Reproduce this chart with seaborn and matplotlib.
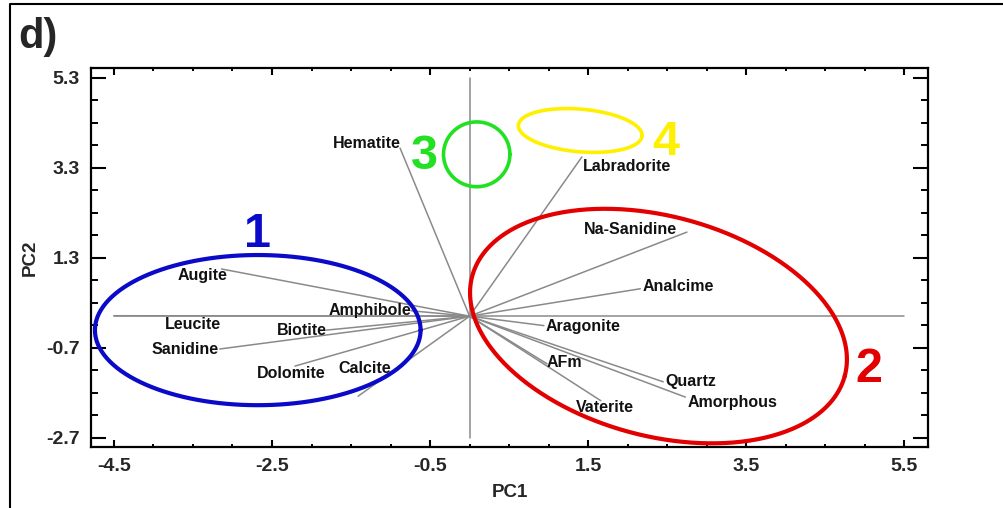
import numpy as np
import pandas as pd
import matplotlib
matplotlib.use("Agg")
import matplotlib.pyplot as plt
from matplotlib.lines import Line2D
import seaborn as sns

# ---------------- data ----------------
minerals = ["Augite", "Leucite", "Sanidine", "Biotite", "Amphibole", "Dolomite",
            "Calcite", "Hematite", "Labradorite", "Na-Sanidine", "Analcime",
            "Aragonite", "AFm", "Vaterite", "Quartz", "Amorphous"]
pc1 = [-3.14, -4.50, -3.16, -1.81, -0.74, -2.21, -1.41, -0.88, 1.42, 2.75,
       2.16, 0.94, 0.98, 1.66, 2.45, 2.73]
pc2 = [1.05, 0.01, -0.73, -0.31, 0.12, -1.11, -1.78, 3.74, 3.54, 1.87,
       0.61, -0.21, -1.06, -1.88, -1.46, -1.80]

x_ticks = [-4.5, -2.5, -0.5, 1.5, 3.5, 5.5]
x_tick_labels = ["-4.5", "-2.5", "-0.5", "1.5", "3.5", "5.5"]
y_ticks = [-2.7, -0.7, 1.3, 3.3, 5.3]
y_tick_labels = ["-2.7", "-0.7", "1.3", "3.3", "5.3"]

group_names = ["1", "2", "3", "4"]
group_colors = ["#0A0AC8", "#E30000", "#22E022", "#FFF000"]

# ---------------- layout / style (not data) ----------------
# label placement relative to vector tip: (dx px, dy px, ha, va)
label_place = {
    "Augite": (6, -7, "right", "center"),
    "Leucite": (79, -9, "center", "center"),
    "Sanidine": (-1, -1, "right", "center"),
    "Biotite": (0, 0, "right", "center"),
    "Amphibole": (0, 0, "right", "center"),
    "Dolomite": (-4, -7, "center", "center"),
    "Calcite": (7, 28, "center", "center"),
    "Hematite": (1, 5, "right", "center"),
    "Labradorite": (1, -9, "left", "center"),
    "Na-Sanidine": (-10, 3, "right", "center"),
    "Analcime": (2, 2, "left", "center"),
    "Aragonite": (2, -1, "left", "center"),
    "AFm": (0, 1, "left", "center"),
    "Vaterite": (4, -7, "center", "center"),
    "Quartz": (2, 0, "left", "center"),
    "Amorphous": (2, -5, "left", "center"),
}
# ellipses: center (data), semi-axes (x-units, display isotropic), angle (deg)
ellipse_spec = [
    ((-2.68, -0.31), 2.06, 0.95, 0.0),
    ((2.39, -0.22), 2.44, 1.39, -15.0),
    ((0.09, 3.60), 0.42, 0.41, 0.0),
    ((1.40, 4.13), 0.785, 0.27, -5.0),
]
ellipse_lw = [3.0, 3.0, 2.6, 2.6]
# group number positions (data coords, baseline)
group_text_pos = [(-2.685, 1.54), (5.054, -1.464), (-0.571, 3.27), (2.479, 3.587)]

sns.set_theme(style="white")
plt.rcParams["font.family"] = ["Liberation Sans", "DejaVu Sans"]
plt.rcParams["font.weight"] = "bold"

fig = plt.figure(figsize=(10.04, 5.08), dpi=100)
ax = fig.add_axes([91 / 1004, 61 / 508, 837 / 1004, 379 / 508])
ax.set_xlim(-4.79, 5.80)
ax.set_ylim(-2.91, 5.52)

grey = "#8a8a8a"
# reference axes through origin
ax.plot([x_ticks[0], x_ticks[-1]], [0, 0], color=grey, lw=1.1, zorder=1)
ax.plot([0, 0], [y_ticks[0], y_ticks[-1]], color=grey, lw=1.1, zorder=1)

# vectors
n = len(minerals)
df = pd.DataFrame({
    "mineral": np.repeat(minerals, 2),
    "PC1": np.ravel(np.column_stack([np.zeros(n), pc1])),
    "PC2": np.ravel(np.column_stack([np.zeros(n), pc2])),
})
sns.lineplot(data=df, x="PC1", y="PC2", units="mineral", estimator=None,
             sort=False, color=grey, linewidth=1.1, ax=ax, legend=False, zorder=2)

for name, x, y in zip(minerals, pc1, pc2):
    dx, dy, ha, va = label_place[name]
    kw = {}
    if name == "Calcite":
        kw["bbox"] = dict(facecolor="white", edgecolor="none", pad=1.0)
    ax.annotate(name, (x, y), xytext=(dx, dy), textcoords="offset pixels",
                ha=ha, va=va, fontsize=11.5, fontweight="bold", color="#111111",
                zorder=3, **kw)

# ellipses (isotropic in display space)
fig.canvas.draw()
p0 = ax.transData.transform((0, 0))
p1 = ax.transData.transform((1, 1))
ratio = (p1[0] - p0[0]) / (p1[1] - p0[1])
t = np.linspace(0, 2 * np.pi, 400)
for (c, a, b, ang), col, lw in zip(ellipse_spec, group_colors, ellipse_lw):
    phi = np.deg2rad(ang)
    u = a * np.cos(t) * np.cos(phi) - b * np.sin(t) * np.sin(phi)
    v = a * np.cos(t) * np.sin(phi) + b * np.sin(t) * np.cos(phi)
    ax.plot(c[0] + u, c[1] + v * ratio, color=col, lw=lw, zorder=4,
            solid_capstyle="round")

for name, col, (gx, gy) in zip(group_names, group_colors, group_text_pos):
    ax.text(gx, gy, name, color=col, fontsize=35, fontweight="bold",
            ha="center", va="baseline", zorder=5)

# ticks and spines
ax.set_xticks(x_ticks)
ax.set_xticklabels(x_tick_labels)
ax.set_yticks(y_ticks)
ax.set_yticklabels(y_tick_labels)
ax.set_xticks(np.arange(x_ticks[0], x_ticks[-1] + 0.01, 0.5), minor=True)
ax.set_yticks(np.arange(y_ticks[0], y_ticks[-1] + 0.01, 0.5), minor=True)
ax.tick_params(axis="both", which="both", direction="in", color="black",
               top=True, bottom=True, left=True, right=True)
ax.tick_params(axis="y", which="major", length=10.8, width=1.5, pad=8,
               labelsize=14)
ax.tick_params(axis="y", which="minor", length=5, width=1.4)
ax.tick_params(axis="x", which="major", length=5, width=1.5, pad=8,
               labelsize=14)
ax.tick_params(axis="x", which="minor", length=2.5, width=1.4)
for lab in ax.get_xticklabels() + ax.get_yticklabels():
    lab.set_fontweight("bold")
for s in ax.spines.values():
    s.set_color("black")
    s.set_linewidth(1.6)
ax.grid(False)

ax.set_xlabel("PC1", fontsize=13.5, fontweight="bold")
ax.set_ylabel("PC2", fontsize=13.5, fontweight="bold")
ax.xaxis.label.set_va("center")
ax.yaxis.label.set_va("center")
ax.xaxis.set_label_coords(0.5, -0.121)
ax.yaxis.set_label_coords(-0.0729, 0.5)

# panel letter and frame
fig.text(18 / 1004, 1 - 48 / 508, "d)", fontsize=30, fontweight="bold",
         ha="left", va="baseline")
fig.add_artist(Line2D([10 / 1004, 10 / 1004, 1.0], [0.0, 1 - 4 / 508, 1 - 4 / 508],
                      transform=fig.transFigure, color="black", lw=1.5))

fig.savefig("out.png", dpi=100, facecolor="white")
